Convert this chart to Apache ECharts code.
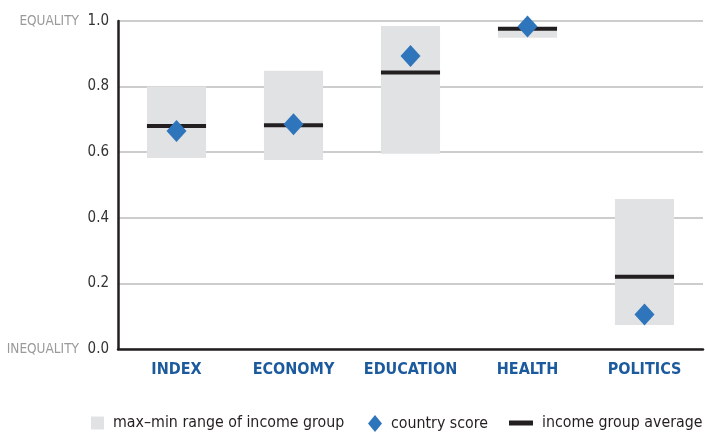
<!DOCTYPE html>
<html><head><meta charset="utf-8">
<script src="https://cdn.jsdelivr.net/npm/echarts@6/dist/echarts.min.js"></script>
<style>html,body{margin:0;padding:0;background:#fff}#c{width:705px;height:434px}</style>
</head><body><div id="c"></div>
<script>
var categories = ['INDEX', 'ECONOMY', 'EDUCATION', 'HEALTH', 'POLITICS'];
var rangeMax = [0.800, 0.848, 0.985, 0.982, 0.457];
var rangeMin = [0.582, 0.576, 0.595, 0.949, 0.073];
var groupAvg = [0.680, 0.682, 0.843, 0.976, 0.220];
var countryScore = [0.665, 0.685, 0.893, 0.983, 0.105];
var yTicks = [0, 0.2, 0.4, 0.6, 0.8, 1.0];

var FONT = '"DejaVu Sans Condensed", "Liberation Sans Narrow", sans-serif';
var chart = echarts.init(document.getElementById('c'));

var rangeData = categories.map(function (c, i) { return [i, rangeMin[i], rangeMax[i]]; });
var avgData = categories.map(function (c, i) { return [i, groupAvg[i]]; });
var scoreData = categories.map(function (c, i) { return [i, countryScore[i]]; });

var NAME_RANGE = 'max–min range of income group';
var NAME_SCORE = 'country score';
var NAME_AVG = 'income group average';

function legendFor(name, icon, color, left, w, h) {
  return {
    left: left, top: 415, itemWidth: w, itemHeight: h, itemGap: 0, padding: 0,
    selectedMode: false,
    textStyle: { fontFamily: FONT, fontSize: 15.8, color: '#231f20', padding: [0, 0, 0, 4] },
    data: [{ name: name, icon: icon, itemStyle: { color: color } }]
  };
}

chart.setOption({
  animation: false,
  textStyle: { fontFamily: FONT },
  grid: { left: 118, right: 2, top: 21, bottom: 85, containLabel: false, outerBoundsMode: 'none' },
  legend: [
    legendFor(NAME_RANGE, 'rect', '#e1e2e4', 91, 13, 13),
    legendFor(NAME_SCORE, 'diamond', '#2e75bb', 368, 14, 17),
    legendFor(NAME_AVG, 'path://M0,0 L24,0 L24,5 L0,5 Z', '#231f20', 509, 24, 5)
  ],
  xAxis: {
    type: 'category', data: categories,
    axisLine: { show: true, onZero: false, lineStyle: { color: '#231f20', width: 2.5 } },
    axisTick: { show: false },
    axisLabel: { interval: 0, color: '#1c5a9e', fontFamily: FONT, fontSize: 16, fontWeight: 'bold', margin: 13 },
    splitLine: { show: false }
  },
  yAxis: {
    type: 'value', min: 0, max: 1, interval: 0.2,
    axisLine: { show: true, lineStyle: { color: '#231f20', width: 2.5 } },
    axisTick: { show: false },
    splitLine: { show: true, lineStyle: { color: '#bcbcbc', width: 1.5 } },
    axisLabel: {
      margin: 9, fontFamily: FONT, fontSize: 15, color: '#333',
      formatter: function (v) {
        var s = v.toFixed(1);
        if (Math.abs(v - 1) < 1e-9) return '{g|EQUALITY}  ' + s;
        if (Math.abs(v) < 1e-9) return '{g|INEQUALITY}  ' + s;
        return s;
      },
      rich: { g: { color: '#9a9a9a', fontFamily: FONT, fontSize: 13.5 } }
    }
  },
  series: [
    {
      name: NAME_RANGE, type: 'custom',
      itemStyle: { color: '#e1e2e4' },
      encode: { x: 0, y: [1, 2] },
      data: rangeData,
      z: 1,
      renderItem: function (params, api) {
        var lo = api.coord([api.value(0), api.value(1)]);
        var hi = api.coord([api.value(0), api.value(2)]);
        var w = api.size([1, 0])[0] * 0.505;
        return { type: 'rect', shape: { x: lo[0] - w / 2, y: hi[1], width: w, height: lo[1] - hi[1] },
                 style: { fill: '#e1e2e4' } };
      }
    },
    {
      name: NAME_AVG, type: 'custom',
      itemStyle: { color: '#231f20' },
      encode: { x: 0, y: 1 },
      data: avgData,
      z: 2,
      renderItem: function (params, api) {
        var p = api.coord([api.value(0), api.value(1)]);
        var w = api.size([1, 0])[0] * 0.505;
        return { type: 'rect', shape: { x: p[0] - w / 2, y: p[1] - 2, width: w, height: 4 },
                 style: { fill: '#231f20' } };
      }
    },
    {
      name: NAME_SCORE, type: 'scatter',
      symbol: 'diamond', symbolSize: [20, 22],
      itemStyle: { color: '#2e75bb', opacity: 1 },
      data: scoreData,
      z: 3
    }
  ]
});
</script></body></html>
